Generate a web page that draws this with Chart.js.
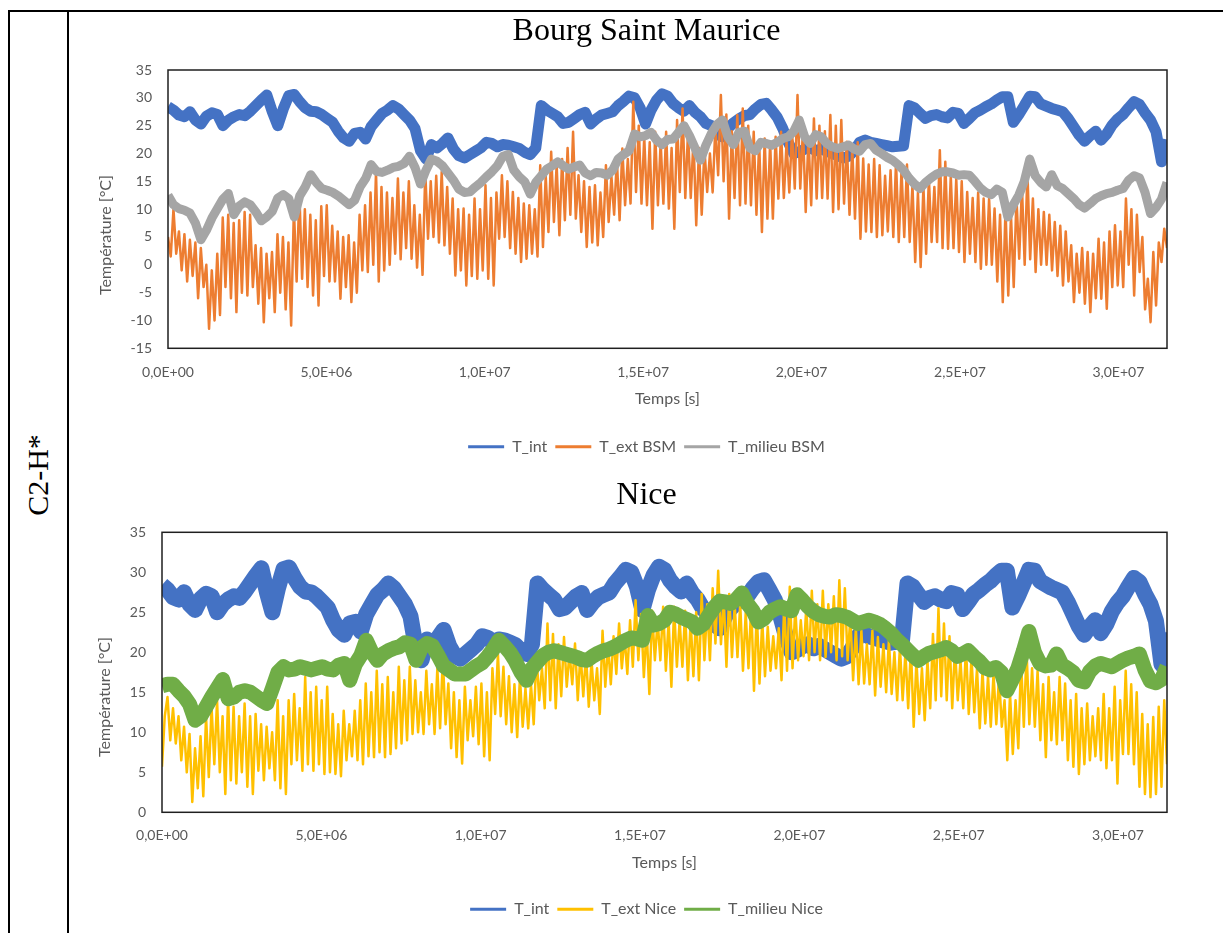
<!DOCTYPE html>
<html><head><meta charset="utf-8">
<script src="https://cdn.jsdelivr.net/npm/chart.js@4.4.1/dist/chart.umd.min.js"></script>
<style>
html,body{margin:0;padding:0;background:#fff;}
body{width:1223px;height:933px;position:relative;overflow:hidden;}
.frame-top{position:absolute;left:8px;top:10px;width:1215px;height:2px;background:#000;}
.frame-left{position:absolute;left:8px;top:10px;width:2px;height:923px;background:#000;}
.frame-mid{position:absolute;left:67px;top:10px;width:2px;height:923px;background:#000;}
.rowlabel{position:absolute;left:38px;top:475px;transform:translate(-50%,-50%) rotate(-90deg);font-family:'Liberation Serif',serif;font-size:30px;white-space:nowrap;color:#000;line-height:1;}
.box{position:absolute;left:70px;}
</style></head><body>
<div class="frame-top"></div><div class="frame-left"></div><div class="frame-mid"></div>
<div class="rowlabel">C2-H*</div>
<div class="box" style="top:12px"><canvas id="c1" width="1153" height="458"></canvas></div>
<div class="box" style="top:472px"><canvas id="c2" width="1153" height="461"></canvas></div>
<script>
// ---- data ----
const YEAR_S = 31536000; // 365 days in seconds, x-axis maximum
const xTickLabels = ['0,0E+00','5,0E+06','1,0E+07','1,5E+07','2,0E+07','2,5E+07','3,0E+07'];
const seriesNamesBSM = ['T_int','T_ext BSM','T_milieu BSM'];
const seriesNamesNice = ['T_int','T_ext Nice','T_milieu Nice'];

// T_int, sampled every ~2 days over the year (183 values)
const tInt = [
28.4,27.8,26.9,26.6,27.5,26.0,25.3,26.7,27.3,27.0,
25.0,26.0,26.6,27.0,26.8,27.6,28.6,29.6,30.5,27.5,
25.0,28.0,30.4,30.6,29.3,28.2,27.6,27.5,27.0,26.3,
25.6,24.0,22.8,22.2,23.6,23.8,22.6,24.8,26.0,27.2,
27.8,28.6,28.0,27.0,26.0,24.5,20.5,19.0,21.6,21.0,
21.8,22.8,20.8,19.6,19.2,19.8,20.4,21.0,22.0,21.8,
21.2,21.6,21.5,21.2,20.9,20.2,19.8,21.0,28.6,27.8,
27.2,26.6,25.4,25.6,26.3,27.0,27.4,25.3,26.2,26.9,
27.2,27.5,28.6,29.4,30.3,30.0,28.2,25.3,27.8,29.6,
30.7,30.3,29.0,28.2,27.6,28.6,27.4,26.6,25.4,25.0,
23.5,23.0,24.5,25.5,26.2,26.8,27.0,28.0,28.8,29.0,
27.8,26.5,24.5,22.0,20.0,20.3,20.8,21.0,20.5,20.8,
20.4,20.0,19.6,19.2,19.5,20.5,22.0,22.4,22.0,21.8,
21.6,21.4,21.2,21.3,21.4,28.6,28.2,27.2,26.3,26.8,
27.0,26.6,26.4,27.4,27.2,25.4,26.3,27.3,27.8,28.4,
28.9,29.6,30.2,30.2,25.6,27.0,28.6,30.3,30.2,28.9,
28.5,28.1,27.8,27.5,26.3,24.8,23.3,22.2,23.2,24.0,
22.4,23.5,25.1,26.2,27.0,28.2,29.3,28.8,27.3,26.0,
23.9,18.5,22.5];

// T_milieu BSM, every ~2 days (183 values)
const tMilieuBSM = [
12.5,10.8,10.1,9.8,9.3,7.5,4.5,6.2,8.4,10.1,
11.8,12.8,9.0,10.6,11.3,10.8,9.5,7.9,8.6,9.6,
12.0,12.6,11.9,8.6,12.4,14.0,16.2,14.8,13.7,13.4,
13.0,12.4,11.6,10.8,11.6,14.0,15.5,18.0,16.8,16.6,
17.0,17.5,17.7,18.2,19.5,17.5,14.5,17.0,19.0,18.6,
17.8,16.5,15.2,13.6,13.0,13.1,14.0,14.8,15.8,16.7,
17.8,19.5,19.8,17.0,15.8,14.9,12.7,14.8,16.0,17.2,
17.8,18.5,17.8,17.2,17.6,17.9,16.5,16.0,16.6,16.5,
16.1,17.0,19.0,19.8,20.5,23.5,23.0,23.2,23.8,22.4,
21.6,22.5,22.6,23.8,25.0,23.2,21.0,18.8,21.5,23.6,
25.2,26.0,23.0,21.6,23.8,24.0,21.0,20.5,22.0,21.8,
21.5,22.0,22.7,23.0,24.0,26.0,23.0,21.8,23.4,23.0,
21.8,21.2,20.9,21.2,21.5,20.8,20.4,21.6,21.8,20.6,
20.0,19.3,18.8,18.0,17.0,15.6,14.5,13.7,14.8,15.6,
16.3,16.7,16.7,16.5,16.1,16.2,16.1,15.0,13.8,13.0,
12.6,13.6,13.0,8.6,10.8,12.5,15.0,19.0,16.0,14.8,
14.0,16.2,14.2,13.7,12.8,11.9,10.8,10.2,11.0,11.9,
12.4,12.8,13.0,13.4,13.7,15.2,16.0,15.6,13.0,9.2,
10.3,11.8,14.8];

// T_milieu Nice, every ~2 days (183 values)
const tMilieuNice = [
15.8,16.0,16.0,15.2,14.5,13.5,11.5,12.0,13.2,14.4,
15.5,16.6,14.2,14.4,15.0,15.2,15.0,14.5,14.0,13.6,
15.5,17.5,18.2,17.8,17.9,18.2,18.0,17.8,18.0,18.2,
17.9,17.8,18.4,18.6,16.5,18.5,19.6,21.5,20.0,19.0,
19.8,20.2,20.5,20.7,21.2,21.0,19.0,20.6,21.1,20.8,
19.6,18.3,17.8,17.3,17.3,17.3,17.8,18.3,18.7,19.5,
20.4,21.5,20.8,20.0,18.9,17.5,16.5,18.0,18.8,19.6,
20.0,20.2,20.0,19.8,19.6,19.4,19.1,19.0,19.5,19.9,
20.2,20.4,20.7,21.1,21.5,21.8,21.7,21.5,24.6,23.4,
23.6,24.0,25.0,24.8,24.4,24.1,23.8,23.0,23.5,24.6,
25.6,26.4,26.3,26.1,26.6,27.4,26.1,25.2,23.8,24.2,
25.0,25.4,25.7,25.4,25.2,27.2,26.5,25.7,25.1,24.7,
24.5,24.4,24.7,24.6,24.4,24.0,23.6,23.8,24.0,23.8,
23.5,23.0,22.4,21.6,21.0,20.3,19.6,19.0,19.5,19.9,
20.1,20.3,20.6,20.2,19.5,19.8,20.2,19.5,18.9,18.1,
17.8,18.1,17.5,15.2,16.6,18.0,20.2,22.6,20.0,18.6,
18.3,18.4,19.8,18.4,18.0,17.5,16.5,16.3,17.6,18.3,
18.6,18.4,18.2,18.6,19.0,19.3,19.5,19.8,17.8,16.4,
16.2,16.6,18.2];

// T_ext BSM, one value per day (366 values, day/night extremes)
const tExtBSM = [
5,1.5,10,2,6,-1,5.5,-3,4.5,-2,
4,-6,3,-4,0,-11.5,-1,-10,2,-9,
8.5,-4,9,-6,7.5,-8.5,8,-5,9.5,-5.5,
9,-4,3.5,-7,3,-10.3,2,-6,2.3,-8.5,
5.5,-5,5,-8,4,-10.9,10,-3,13,-2.5,
10,-4,9,-5.5,8,-7.3,10.5,-2,10.7,-3,
7,-3,6,-6.1,5,-4,5.3,-6.7,4,-5,
9,-1,10.7,-1.3,13,0,16.7,-3,14,-1,
13,0,12,2,15.5,1,13,3,15,1.1,
10.7,-0.5,9,-1.8,16.7,4.7,15,5,16,4,
16.7,3.5,14,2,11.9,-1.9,10,-1,10.1,-3.7,
9,-2,11.9,-2.5,10,-1,14.3,-2.5,12,-3.7,
13,4.7,16.1,5,15,3,13.1,2,12,0.5,
11,1.1,10.7,2,10,1.5,17.9,3.2,16,5.9,
20.3,7.7,18,5.3,19,8,21,9,23.9,8.3,
16.1,5.9,15,3.2,14,4,14.3,3.5,13,5,
17.9,7.7,16,9,19,8,20.9,10.7,19,11,
29.3,13.1,25,11,23,10.7,22,6.5,23.9,10.7,
22,11,23.9,10.1,21,6.5,26,13.1,28.1,12,
24,12,22.7,7.1,21,9,20.9,13.1,20,13,
25,16.1,30.5,15,27,8.3,24,12,26.9,10.7,
28.1,11,25,10.7,23.9,9,22,5.9,22.7,8.3,
22,8.3,23,11.9,23.9,12,22,13,24,13.7,
30.5,13.7,24.5,9.5,23,10.7,26.3,11.9,25,12,
24,11.9,26.9,9.5,25,10,26,11,22.1,9,
21,8.3,22,4.7,19.1,6,18,5.9,19,5,
17.9,5.3,16,6,17,5,18.5,4.1,17,5,
18,4.1,14.3,0.5,13,-0.4,14,2,15.5,4.1,
14,4.1,20.6,3,18.5,2.9,16,3,15.5,2.3,
15,0.5,13.1,2,12,0.5,13,-0.7,11.9,0,
11.9,0,10.1,-3,9,-6.7,10,-5.5,8.9,-4,
12,1.1,14,0,16.7,1,11.9,-1.3,10,0,
9.5,0,9,-1,7.7,-2,7,-3.7,6,-3,
3.5,-6.7,2,-5,3,-7,2.3,-8.5,2,-6,
4.7,-6.1,4,-7.9,6,-4,7.1,-3.7,6,-4,
11.9,0,10,-5.5,9,-1.3,5,-8,-2.5,-10.3,
2.3,-7.3,4,0.5,6.5,3];

// T_ext Nice, one value per day (366 values)
const tExtNice = [
5.7,12,14.4,9,13,8.6,12,6.5,10.7,5,
9.8,1.3,8,3,9.5,2,12,4.4,13.2,6,
14,5,12,2.3,14.4,4,13.2,3.6,12,5,
13.6,3.2,12,2.3,12.3,5.2,11,4,10.7,5.5,
10,4,14,3,12,2.3,14,6,14.8,6.5,
13,5.2,16.9,6,15,5.2,15.7,6,14,4.8,
15.7,5,12.3,4.8,11,4.5,12.7,6.5,11,7,
12.7,6.5,14,6,16.1,7,15,6.9,17.7,7.5,
16,6.9,16.9,7.3,15,8,18.2,8.6,16.5,9,
18.2,9.8,16.5,10,15,9.8,17.7,11,16,9.8,
18,10.5,19.4,11,16.1,8,15,6.9,14,6.1,
15.7,9,14,9.5,15.7,8.5,16.1,7,15,6.5,
18,12.3,19.8,12,18.2,11,17,10,16,9.4,
16.9,10.7,15.5,10.5,16,11,19.8,14,18,13,
23.6,14,22.3,13,21,14.5,21.9,15.7,20,16,
21.1,14,20,14.5,19.8,13.2,19,14,18,12.3,
22.7,15.7,21,16,22,17.3,23.6,18,22,17.3,
24,18.2,26.5,19,24.8,16.9,23,14.8,25.2,19,
24,19,25.7,17.7,24,15.7,25.7,18.2,24,18.2,
25.2,16.5,24,17,25,16.5,27.3,19,26,19,
28,21.1,30.2,21,27,18.2,27.3,19.4,26,19.4,
26.1,17.7,25,18,26,15.2,25.2,16.1,24,17,
23.2,17.7,22,18,23,16.5,26.1,17.7,28.2,18,
25.7,19,24,19.5,25.7,19,27.7,20,26,19,
27.7,19.4,26,20,27,19,29,19.5,28,19,
24.4,16.5,23,16,22.7,16.1,21,16,22.7,14.6,
21.9,15.7,21,15,21.5,14.8,20,14,20.7,14,
20,13,20.7,10.7,19,12.3,18,11.5,19,13,
22.3,14,25.5,14.5,23.6,14,22,13,20.7,14,
19,13,20.7,12.3,19.4,12.5,18,10.5,17.7,11.1,
17,10.7,17.3,11,17,10.7,14,6.5,14.8,7.3,
14,8,19,10.7,20.2,11,18,10.7,17.7,9,
16,6.9,16.9,9,15,8.5,16.9,9,16.1,6.5,
14,5.7,14.8,4.8,13,6,13.6,6.5,12,7,
13,6.5,14.8,5.5,13,6.5,15.7,3.6,14,7.3,
17.7,7.3,16,6,15,3.2,12.3,2.3,11,1.9,
11.9,2.3,13.2,3.2,14,6];

const colInt = '#4472C4', colExtBSM = '#ED7D31', colMilBSM = '#A5A5A5', colExtNice = '#FFC000', colMilNice = '#70AD47';
const textGrey = '#595959';

// time grid: values evenly spread over the year
function toPoints(values){ const step = YEAR_S/(values.length-1); return values.map((v,i)=>({x:i*step, y:v})); }

const plotFrame = { id:'plotFrame', afterDatasetsDraw(chart){
  const {ctx, chartArea:a} = chart; ctx.save(); ctx.strokeStyle='#1f1f1f'; ctx.lineWidth=1.5;
  ctx.strokeRect(a.left, a.top, a.right-a.left, a.bottom-a.top); ctx.restore(); } };
const yTitle = { id:'yTitle', afterDraw(chart, args, o){
  const ctx = chart.ctx; ctx.save(); ctx.translate(o.x, o.y); ctx.rotate(-Math.PI/2);
  ctx.font = '16px Lato'; ctx.fillStyle = textGrey; ctx.textAlign='center'; ctx.textBaseline='middle';
  ctx.fillText(o.text, 0, 0); ctx.restore(); } };

function makeChart(id, p){
  const ds = (label, data, color, width, order) => ({label, data: toPoints(data), borderColor: color, backgroundColor: color,
     borderWidth: width, pointRadius: 0, order, clip: 0, borderJoinStyle: 'round', borderCapStyle: 'butt', tension: 0});
  return new Chart(document.getElementById(id), {
    type: 'line',
    data: { datasets: [
      ds(p.names[0], tInt, colInt, p.wInt, 3),
      ds(p.names[1], p.ext, p.colExt, 2.5, 2),
      ds(p.names[2], p.mil, p.colMil, p.wMil, 1)
    ]},
    options: {
      responsive: false, animation: false, events: [],
      layout: { padding: { top: 0, left: 0, right: 0, bottom: p.padBottom } },
      plugins: {
        title: { display: true, text: p.title, color: '#000',
          font: { family: 'Liberation Serif', size: 32, weight: 'normal', lineHeight: 1 },
          padding: { top: p.titleTop, bottom: p.titleBottom } },
        legend: { position: 'bottom', labels: {
          usePointStyle: true, pointStyle: 'line', pointStyleWidth: 36, padding: 8, color: textGrey,
          font: { family: 'Lato', size: 16 },
          generateLabels(chart){ const items = Chart.defaults.plugins.legend.labels.generateLabels(chart);
            items.forEach(it => { it.lineWidth = 3; it.pointStyle = 'line'; }); return items; },
          sort: (a,b) => a.datasetIndex - b.datasetIndex } },
        tooltip: { enabled: false },
        yTitle: { text: 'Température [°C]', x: p.yTitleX, y: p.yTitleY }
      },
      scales: {
        x: { type: 'linear', min: 0, max: YEAR_S, grid: { display: false }, border: { display: false },
          afterBuildTicks: s => { s.ticks = xTickLabels.map((_, i) => ({ value: i * 5e6 })); },
          ticks: { autoSkip: false, maxRotation: 0, padding: p.xTickPad,
            color: textGrey, font: { family: 'Lato', size: 14 },
            callback: v => xTickLabels[Math.round(v/5e6)] },
          title: { display: true, text: 'Temps [s]', color: textGrey, font: { family: 'Lato', size: 16, lineHeight: 1.2 },
            padding: { top: 0, bottom: p.xTitleBottom } },
          afterFit: s => { s.height = p.xHeight; } },
        y: { min: p.yMin, max: 35, grid: { display: false }, border: { display: false },
          ticks: { stepSize: 5, padding: 8, color: textGrey, font: { family: 'Lato', size: 14 } },
          afterFit: s => { s.width = p.yWidth; } },
        yR: { position: 'right', display: true, grid: { display: false }, border: { display: false },
          ticks: { display: false }, afterFit: s => { s.width = 56; } }
      }
    },
    plugins: [plotFrame, yTitle]
  });
}

makeChart('c1', { names: seriesNamesBSM, ext: tExtBSM, mil: tMilieuBSM, colExt: colExtBSM, colMil: colMilBSM,
  wInt: 11, wMil: 9, title: 'Bourg Saint Maurice', titleTop: 4, titleBottom: 22, padBottom: 5.3,
  xHeight: 82.4, xTitleBottom: 22.1, xTickPad: 8, yMin: -15, yWidth: 98, yTitleX: 36, yTitleY: 223 });
makeChart('c2', { names: seriesNamesNice, ext: tExtNice, mil: tMilieuNice, colExt: colExtNice, colMil: colMilNice,
  wInt: 16, wMil: 15, title: 'Nice', titleTop: 8, titleBottom: 20.3, padBottom: 5.7,
  xHeight: 81, xTitleBottom: 21.2, xTickPad: 7, yMin: 0, yWidth: 92, yTitleX: 35, yTitleY: 225 });
</script>
</body></html>
